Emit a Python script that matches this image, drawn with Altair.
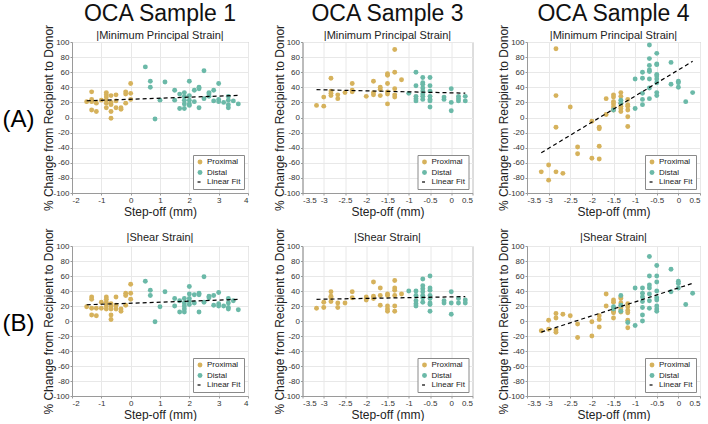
import altair as alt
import pandas as pd

# ---------------- data ----------------
SERIES = ["Proximal", "Distal", "Linear Fit"]
FILLS = ["#D6B25C", "#6BB9A8", "transparent"]
STROKES = ["transparent", "transparent", "#000000"]
SHAPES = ["circle", "circle", "stroke"]
DASHES = [[1, 0], [1, 0], [3, 2]]
SIZES = [24, 24, 130]

COL_TITLES = ["OCA Sample 1", "OCA Sample 3", "OCA Sample 4"]
ROW_TITLES = ["|Minimum Principal Strain|", "|Shear Strain|"]
ROW_LABELS = ["(A)", "(B)"]

X_TICKS_S1 = [-2, -1, 0, 1, 2, 3, 4]
X_TICKS_S34 = [-3.5, -3, -2.5, -2, -1.5, -1, -0.5, 0, 0.5]
Y_TICKS = [-100, -80, -60, -40, -20, 0, 20, 40, 60, 80, 100]

# Row A, sample 1
A1_PROX = [(-1.5, 21), (-1.33, 34), (-1.33, 24), (-1.33, 21), (-1.33, 10), (-1.17, 19), (-1.17, 8),
           (-1.0, 23), (-0.83, 33), (-0.83, 30), (-0.83, 27), (-0.83, 23), (-0.83, 19), (-0.83, 13),
           (-0.67, 29), (-0.67, 20), (-0.67, 17), (-0.67, 8), (-0.67, -1), (-0.5, 30), (-0.5, 22),
           (-0.5, 13), (-0.33, 13), (-0.33, 11), (-0.17, 34), (-0.17, 31), (-0.17, 19),
           (0.0, 45), (0.0, 32), (0.0, 24)]
A1_DIST = [(0.5, 67), (0.67, 48), (0.67, 40), (0.83, -2), (1.0, 23), (1.17, 47), (1.5, 36), (1.5, 23),
           (1.67, 31), (1.67, 12), (1.83, 33), (1.83, 28), (1.83, 23), (1.83, 18), (1.83, 12),
           (2.0, 48), (2.0, 29), (2.0, 23), (2.0, 18), (2.0, 16), (2.17, 36), (2.17, 21),
           (2.33, 40), (2.33, 38), (2.33, 13), (2.5, 62), (2.5, 25), (2.67, 33), (2.67, 31), (2.67, 28),
           (2.83, 36), (2.83, 22), (3.0, 45), (3.0, 24), (3.0, 21), (3.17, 20), (3.33, 28), (3.33, 23),
           (3.33, 17), (3.33, 13), (3.5, 22), (3.67, 18)]
# Row A, sample 3
A3_PROX = [(-3.17, 16), (-3.0, 27), (-3.0, 15), (-2.83, 52), (-2.83, 35), (-2.83, 32), (-2.83, 29),
           (-2.67, 30), (-2.67, 25), (-2.5, 33), (-2.33, 45), (-2.33, 36), (-2.33, 34), (-2.0, 28),
           (-1.83, 48), (-1.83, 33), (-1.83, 30), (-1.67, 40), (-1.67, 37), (-1.67, 29),
           (-1.5, 58), (-1.5, 56), (-1.5, 45), (-1.5, 34), (-1.5, 31), (-1.5, 18),
           (-1.33, 90), (-1.33, 60), (-1.33, 38), (-1.33, 30), (-1.33, 27), (-1.17, 50)]
A3_DIST = [(-1.0, 32), (-0.83, 60), (-0.83, 42), (-0.83, 28), (-0.83, 25), (-0.83, 22),
           (-0.67, 53), (-0.67, 46), (-0.67, 44), (-0.67, 39), (-0.67, 35), (-0.67, 31), (-0.67, 28), (-0.67, 24),
           (-0.5, 53), (-0.5, 42), (-0.5, 35), (-0.5, 28), (-0.5, 24), (-0.5, 22), (-0.5, 14),
           (-0.17, 27), (-0.17, 24), (0.0, 38), (0.0, 20), (0.0, 9), (0.17, 28), (0.17, 25), (0.17, 22),
           (0.33, 28), (0.33, 22)]
# Row A, sample 4
A4_PROX = [(-3.17, -72), (-3.0, -63), (-3.0, -83), (-2.83, 91), (-2.83, 29), (-2.83, -13), (-2.83, -72),
           (-2.67, -74), (-2.5, 14), (-2.33, -39), (-2.33, -48), (-2.0, -5), (-2.0, -54),
           (-1.83, -13), (-1.83, -15), (-1.83, -38), (-1.83, -55), (-1.67, 25), (-1.67, 4),
           (-1.5, 30), (-1.5, 27), (-1.5, 21), (-1.5, 18), (-1.5, 14), (-1.5, 10),
           (-1.33, 33), (-1.33, 28), (-1.33, 19), (-1.33, 15), (-1.33, 12), (-1.33, 8),
           (-1.17, 24), (-1.17, 17), (-1.17, 15), (-1.17, 10), (-1.17, 1), (-1.17, -12)]
A4_DIST = [(-1.5, 10), (-1.33, 23), (-1.33, 19), (-1.0, 51), (-1.0, 12),
           (-0.83, 60), (-0.83, 52), (-0.83, 32), (-0.83, 24), (-0.83, 17),
           (-0.67, 96), (-0.67, 78), (-0.67, 69), (-0.67, 63), (-0.67, 61), (-0.67, 51), (-0.67, 39), (-0.67, 25),
           (-0.5, 85), (-0.5, 71), (-0.5, 70), (-0.5, 57), (-0.5, 55), (-0.5, 51), (-0.5, 46), (-0.5, 33), (-0.5, 29),
           (-0.17, 73), (-0.17, 44), (0.0, 48), (0.0, 46), (0.0, 40), (0.17, 21), (0.33, 33)]
# Row B, sample 1
B1_PROX = [(-1.5, 19), (-1.33, 32), (-1.33, 29), (-1.33, 17), (-1.33, 8), (-1.17, 17), (-1.17, 7),
           (-1.0, 25), (-1.0, 17), (-0.83, 32), (-0.83, 29), (-0.83, 25), (-0.83, 20), (-0.83, 16),
           (-0.67, 23), (-0.67, 19), (-0.67, 16), (-0.67, 8), (-0.67, 2), (-0.5, 32), (-0.5, 21), (-0.5, 16),
           (-0.33, 16), (-0.33, 13), (-0.17, 37), (-0.17, 34), (-0.17, 21), (0.0, 49), (0.0, 37), (0.0, 29)]
B1_DIST = [(0.5, 53), (0.67, 41), (0.67, 34), (0.83, -1), (1.0, 19), (1.17, 39), (1.5, 30), (1.5, 20),
           (1.67, 27), (1.67, 12), (1.83, 30), (1.83, 24), (1.83, 20), (1.83, 16), (1.83, 12),
           (2.0, 46), (2.0, 36), (2.0, 30), (2.0, 26), (2.0, 22), (2.17, 35), (2.17, 24),
           (2.33, 37), (2.33, 35), (2.33, 12), (2.5, 59), (2.5, 25), (2.67, 33), (2.67, 31),
           (2.83, 34), (2.83, 21), (3.0, 38), (3.0, 23), (3.0, 20), (3.17, 20),
           (3.33, 30), (3.33, 24), (3.33, 18), (3.33, 16), (3.5, 27), (3.67, 15)]
# Row B, sample 3
B3_PROX = [(-3.17, 17), (-3.0, 25), (-3.0, 18), (-2.83, 39), (-2.83, 33), (-2.83, 31), (-2.83, 26),
           (-2.67, 24), (-2.67, 18), (-2.5, 24), (-2.33, 39), (-2.33, 31), (-2.0, 32), (-2.0, 30), (-2.0, 28),
           (-1.83, 52), (-1.83, 33), (-1.83, 30), (-1.67, 44), (-1.67, 34), (-1.67, 21),
           (-1.5, 36), (-1.5, 34), (-1.5, 20), (-1.5, 16), (-1.5, 13),
           (-1.33, 54), (-1.33, 44), (-1.33, 41), (-1.33, 34), (-1.33, 20), (-1.33, 13), (-1.17, 36)]
B3_DIST = [(-1.0, 40), (-0.83, 40), (-0.83, 34), (-0.83, 27), (-0.83, 23), (-0.83, 20),
           (-0.67, 56), (-0.67, 47), (-0.67, 43), (-0.67, 39), (-0.67, 34), (-0.67, 31), (-0.67, 25),
           (-0.5, 60), (-0.5, 44), (-0.5, 41), (-0.5, 34), (-0.5, 30), (-0.5, 24), (-0.5, 22), (-0.5, 13),
           (-0.17, 27), (-0.17, 24), (0.0, 39), (0.0, 24), (0.0, 9), (0.17, 30), (0.17, 24), (0.33, 28), (0.33, 24)]
# Row B, sample 4
B4_PROX = [(-3.17, -13), (-3.0, 1), (-3.0, -11), (-2.83, 10), (-2.83, 4), (-2.83, -12), (-2.83, -15),
           (-2.67, 9), (-2.5, 7), (-2.33, -4), (-2.33, -22), (-2.0, -1), (-2.0, -20),
           (-1.83, 7), (-1.83, 2), (-1.83, -8), (-1.67, 36), (-1.67, 20),
           (-1.5, 28), (-1.5, 25), (-1.5, 16), (-1.5, 13), (-1.5, 11), (-1.5, 4),
           (-1.33, 32), (-1.33, 30), (-1.33, 24), (-1.33, 18), (-1.33, 15), (-1.33, 12),
           (-1.17, 23), (-1.17, 19), (-1.17, 14), (-1.17, 11), (-1.17, 1), (-1.17, -9)]
B4_DIST = [(-1.5, 19), (-1.5, 16), (-1.33, 34), (-1.33, 21), (-1.33, 13), (-1.17, -2), (-1.0, 44), (-1.0, -6),
           (-0.83, 44), (-0.83, 37), (-0.83, 32), (-0.83, 26), (-0.83, 18), (-0.83, 8), (-0.83, 0),
           (-0.67, 86), (-0.67, 60), (-0.67, 48), (-0.67, 44), (-0.67, 36), (-0.67, 27), (-0.67, 17),
           (-0.5, 74), (-0.5, 60), (-0.5, 52), (-0.5, 40), (-0.5, 31), (-0.5, 28), (-0.5, 20), (-0.5, 16), (-0.5, 13),
           (-0.17, 69), (-0.17, 39), (0.0, 53), (0.0, 50), (0.0, 44), (0.17, 22), (0.33, 37)]

# ---------------- chart ----------------
FONT = "Liberation Sans"


def make_df(prox, dist):
    rows = [{"x": x, "y": y, "series": "Proximal"} for x, y in prox]
    rows += [{"x": x, "y": y, "series": "Distal"} for x, y in dist]
    return pd.DataFrame(rows)


legend = alt.Legend(
    title=None, orient="bottom-right", offset=4, padding=3,
    strokeColor="#8a8a8a", fillColor="white", cornerRadius=0,
    labelFontSize=8, labelFont=FONT, labelColor="#222",
    rowPadding=0.5, labelOffset=3, symbolStrokeWidth=1.2, symbolOpacity=1,
)


def panel(prox, dist, xdom, xticks, width, height, title):
    df = make_df(prox, dist)
    x = alt.X("x:Q", scale=alt.Scale(domain=xdom, nice=False, zero=False),
              axis=alt.Axis(values=xticks, title="Step-off (mm)", labelExpr="datum.value + ''"))
    y = alt.Y("y:Q", scale=alt.Scale(domain=[-100, 100], nice=False),
              axis=alt.Axis(values=Y_TICKS, title="% Change from Recipient to Donor",
                            labelExpr="datum.value + ''"))
    base = alt.Chart(df)
    pts = base.mark_point(filled=True, opacity=1, strokeWidth=1.2).encode(
        x=x, y=y,
        fill=alt.Fill("series:N", scale=alt.Scale(domain=SERIES, range=FILLS), legend=legend),
        stroke=alt.Stroke("series:N", scale=alt.Scale(domain=SERIES, range=STROKES), legend=legend),
        shape=alt.Shape("series:N", scale=alt.Scale(domain=SERIES, range=SHAPES), legend=legend),
        strokeDash=alt.StrokeDash("series:N", scale=alt.Scale(domain=SERIES, range=DASHES), legend=legend),
        size=alt.Size("series:N", scale=alt.Scale(domain=SERIES, range=SIZES), legend=legend),
    )
    fit = base.transform_regression("x", "y").mark_line(
        color="black", strokeDash=[4, 3], strokeWidth=1.2
    ).encode(x=x, y=y)
    return alt.layer(pts, fit).properties(width=width, height=height, title=title)


def col_title(i):
    return alt.TitleParams(text=COL_TITLES[i], subtitle=ROW_TITLES[0], fontSize=23, subtitleFontSize=11,
                           font=FONT, subtitleFont=FONT, anchor="middle", frame="group",
                           fontWeight="normal", color="#111", subtitleColor="#222",
                           subtitlePadding=4, offset=-17)


def sub_title():
    return alt.TitleParams(text=ROW_TITLES[1], fontSize=11, font=FONT, anchor="middle", frame="group",
                           fontWeight="normal", color="#222", offset=-15)


W = [176, 170, 173]
H = 151
X_DOMS = [[-2, 4], [-3.5, 0.5], [-3.5, 0.5]]
X_TICKS = [X_TICKS_S1, X_TICKS_S34, X_TICKS_S34]

rowA_data = [(A1_PROX, A1_DIST), (A3_PROX, A3_DIST), (A4_PROX, A4_DIST)]
rowB_data = [(B1_PROX, B1_DIST), (B3_PROX, B3_DIST), (B4_PROX, B4_DIST)]

IND = dict(fill="independent", stroke="independent", shape="independent",
           strokeDash="independent", size="independent")


def row_title(t, dy):
    return alt.TitleParams(t, orient="left", angle=0, fontSize=24, font=FONT, frame="bounds",
                           fontWeight="normal", anchor="middle", baseline="middle", align="center",
                           offset=-8, dy=dy)


rowA = alt.hconcat(*[
    panel(p, d, X_DOMS[i], X_TICKS[i], W[i], H, col_title(i)) for i, (p, d) in enumerate(rowA_data)
], spacing=54.5, bounds="flush").resolve_scale(**IND).resolve_legend(**IND).properties(
    title=row_title(ROW_LABELS[0], 10))
rowB = alt.hconcat(*[
    panel(p, d, X_DOMS[i], X_TICKS[i], W[i], H - 1, sub_title()) for i, (p, d) in enumerate(rowB_data)
], spacing=54.5, bounds="flush").resolve_scale(**IND).resolve_legend(**IND).properties(
    title=row_title(ROW_LABELS[1], 0))

chart = alt.vconcat(rowA, rowB, spacing=9).resolve_scale(**IND).resolve_legend(**IND).properties(
    padding={"left": 2, "top": 2, "right": 2, "bottom": 0}
).configure(
    font=FONT
).configure_view(
    stroke="#a8a8a8", strokeWidth=1
).configure_axis(
    labelFont=FONT, titleFont=FONT, labelFontSize=8, titleFontSize=12, labelColor="#333",
    titleColor="#222", titleFontWeight="normal", gridColor="#e8e8e8", domainColor="#9a9a9a",
    tickColor="#9a9a9a", tickSize=2, labelPadding=1
).configure_axisX(
    titlePadding=2
).configure_axisY(
    titlePadding=-3
)

chart.save("out.html", embed_options={"renderer": "svg", "actions": False})
